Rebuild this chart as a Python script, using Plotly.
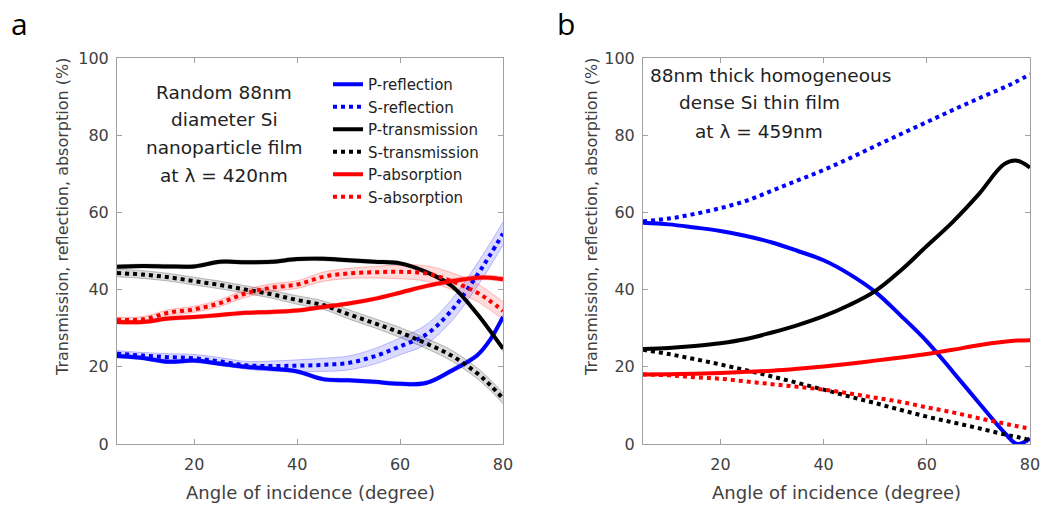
import plotly.graph_objects as go

# Angle of incidence (degree)
angle = [5, 10, 15, 20, 25, 30, 35, 40, 45, 50, 55, 60, 65, 70, 75, 77.5, 80]

# (a) Random 88 nm diameter Si nanoparticle film, lambda = 420 nm (%)
np_p_refl = [22.8, 22.3, 21.3, 21.6, 20.8, 20.0, 19.5, 18.8, 16.8, 16.5, 16.1, 15.6, 15.8, 19.0, 23.0, 27.0, 32.9]
np_s_refl = [23.4, 22.9, 22.5, 22.2, 21.4, 20.4, 20.2, 20.3, 20.5, 21.0, 22.7, 25.3, 28.3, 34.6, 43.8, 49.0, 54.5]
np_p_trans = [45.9, 46.1, 46.0, 46.0, 47.2, 47.1, 47.2, 47.9, 48.0, 47.6, 47.2, 46.8, 44.6, 41.0, 33.7, 29.3, 24.7]
np_s_trans = [44.3, 43.9, 43.2, 42.2, 41.2, 40.0, 38.8, 37.3, 36.0, 33.6, 31.3, 28.9, 26.1, 22.9, 18.3, 15.3, 11.8]
np_p_abs = [31.6, 31.6, 32.5, 32.9, 33.4, 34.0, 34.2, 34.6, 35.5, 36.4, 37.6, 39.2, 40.9, 42.2, 43.1, 43.1, 42.7]
np_s_abs = [32.2, 32.3, 34.0, 34.9, 36.5, 39.0, 40.5, 41.3, 43.3, 44.2, 44.5, 44.6, 44.2, 42.2, 39.2, 37.0, 34.5]

# Half-width of the spread between samples (%)
np_p_err = [0.5, 0.5, 0.5, 0.5, 0.5, 0.5, 0.5, 0.5, 0.5, 0.5, 0.5, 0.5, 0.5, 0.6, 0.6, 0.6, 0.6]
np_s_refl_err = [0.8, 0.8, 0.9, 1.0, 1.0, 1.0, 1.3, 1.5, 1.7, 1.8, 2.0, 2.2, 2.5, 2.8, 3.0, 3.0, 3.0]
np_s_trans_err = [1.0, 1.0, 1.0, 1.0, 1.0, 1.0, 1.0, 1.1, 1.1, 1.2, 1.2, 1.3, 1.3, 1.4, 1.4, 1.4, 1.4]
np_s_abs_err = [0.7, 0.7, 0.8, 0.8, 0.9, 1.0, 1.0, 1.0, 1.2, 1.3, 1.5, 1.8, 2.0, 2.2, 2.3, 2.3, 2.3]

# (b) 88 nm thick homogeneous dense Si thin film, lambda = 459 nm (%)
film_p_refl = [57.3, 56.9, 56.1, 55.2, 53.9, 52.2, 50.0, 47.6, 44.0, 39.4, 33.2, 26.6, 18.8, 10.8, 3.0, 0.0, 1.4]
film_s_refl = [57.7, 58.4, 59.6, 61.1, 63.0, 65.6, 68.3, 71.0, 74.0, 77.2, 80.3, 83.4, 86.5, 89.5, 92.4, 94.0, 95.8]
film_p_trans = [24.6, 24.9, 25.4, 26.1, 27.2, 28.9, 30.8, 33.1, 36.0, 39.6, 45.0, 51.3, 57.5, 64.6, 72.5, 73.4, 71.6]
film_s_trans = [24.4, 23.3, 22.0, 20.6, 19.1, 17.5, 15.8, 14.1, 12.3, 10.6, 8.8, 7.1, 5.6, 4.1, 2.5, 1.8, 1.0]
film_p_abs = [18.0, 18.1, 18.2, 18.4, 18.7, 19.0, 19.5, 20.1, 20.8, 21.6, 22.4, 23.3, 24.4, 25.6, 26.5, 26.8, 26.9]
film_s_abs = [18.0, 17.8, 17.3, 16.9, 16.2, 15.5, 14.8, 14.1, 13.1, 12.0, 10.9, 9.5, 8.2, 6.7, 5.3, 4.6, 4.0]

x_ticks = [20, 40, 60, 80]
y_ticks = [0, 20, 40, 60, 80, 100]

BLUE, BLACK, RED = "#0000ff", "#000000", "#ff0000"
FONT = "DejaVu Sans"
W, H = 1044, 506


def px_x(p):
    return p / W


def px_y(p):
    return 1 - p / H


fig = go.Figure()


def band(mean, err, rgb, xa, ya):
    lo = [m - e for m, e in zip(mean, err)]
    hi = [m + e for m, e in zip(mean, err)]
    edge = f"rgba({rgb},0.30)"
    fig.add_trace(go.Scatter(x=angle, y=lo, mode="lines", line=dict(color=edge, width=0.8, shape="spline"),
                             showlegend=False, hoverinfo="skip", xaxis=xa, yaxis=ya))
    fig.add_trace(go.Scatter(x=angle, y=hi, mode="lines", line=dict(color=edge, width=0.8, shape="spline"),
                             fill="tonexty", fillcolor=f"rgba({rgb},0.14)",
                             showlegend=False, hoverinfo="skip", xaxis=xa, yaxis=ya))


def curve(y, color, dash, name, xa, ya, legend):
    fig.add_trace(go.Scatter(x=angle, y=y, mode="lines", name=name,
                             line=dict(color=color, width=4, dash=dash, shape="spline"),
                             showlegend=legend, xaxis=xa, yaxis=ya))


# Panel a: spread bands underneath the mean curves
band(np_p_refl, np_p_err, "0,0,255", "x", "y")
band(np_s_refl, np_s_refl_err, "0,0,255", "x", "y")
band(np_p_trans, np_p_err, "0,0,0", "x", "y")
band(np_s_trans, np_s_trans_err, "0,0,0", "x", "y")
band(np_p_abs, np_p_err, "255,0,0", "x", "y")
band(np_s_abs, np_s_abs_err, "255,0,0", "x", "y")

curve(np_p_refl, BLUE, "solid", "P-reflection", "x", "y", True)
curve(np_s_refl, BLUE, "dot", "S-reflection", "x", "y", True)
curve(np_p_trans, BLACK, "solid", "P-transmission", "x", "y", True)
curve(np_s_trans, BLACK, "dot", "S-transmission", "x", "y", True)
curve(np_p_abs, RED, "solid", "P-absorption", "x", "y", True)
curve(np_s_abs, RED, "dot", "S-absorption", "x", "y", True)

# Panel b
curve(film_p_refl, BLUE, "solid", "P-reflection", "x2", "y2", False)
curve(film_s_refl, BLUE, "dot", "S-reflection", "x2", "y2", False)
curve(film_p_trans, BLACK, "solid", "P-transmission", "x2", "y2", False)
curve(film_s_trans, BLACK, "dot", "S-transmission", "x2", "y2", False)
curve(film_p_abs, RED, "solid", "P-absorption", "x2", "y2", False)
curve(film_s_abs, RED, "dot", "S-absorption", "x2", "y2", False)

axis_common = dict(showline=True, linecolor="#a0a0a0", linewidth=1, mirror="ticks",
                   ticks="inside", ticklen=5, tickcolor="#a0a0a0", tickwidth=1,
                   showgrid=False, zeroline=False, automargin=False,
                   tickfont=dict(family=FONT, size=16, color="#404040"))

xdom_a = [px_x(117), px_x(503)]
xdom_b = [px_x(643), px_x(1030)]
ydom = [px_y(444), px_y(58)]

fig.update_layout(
    width=W, height=H,
    margin=dict(l=0, r=0, t=0, b=0, pad=0),
    paper_bgcolor="white", plot_bgcolor="white",
    xaxis=dict(domain=xdom_a, range=[5, 80], tickvals=x_ticks, anchor="y",
               ticklabelstandoff=6, **axis_common),
    yaxis=dict(domain=ydom, range=[0, 100], tickvals=y_ticks, anchor="x",
               ticklabelstandoff=4, **axis_common),
    xaxis2=dict(domain=xdom_b, range=[5, 80], tickvals=x_ticks, anchor="y2",
                ticklabelstandoff=6, **axis_common),
    yaxis2=dict(domain=ydom, range=[0, 100], tickvals=y_ticks, anchor="x2",
                ticklabelstandoff=4, **axis_common),
    legend=dict(x=px_x(328), y=px_y(68), xanchor="left", yanchor="top",
                bgcolor="rgba(0,0,0,0)", borderwidth=0, traceorder="normal",
                font=dict(family=FONT, size=15, color="#222222"),
                tracegroupgap=0),
    showlegend=True,
)

annotations = []


def text(x, y, s, size, color="#222222", angle=0, family=FONT):
    annotations.append(dict(x=px_x(x), y=px_y(y), xref="paper", yref="paper", text=s,
                            showarrow=False, xanchor="center", yanchor="middle",
                            textangle=angle, font=dict(family=family, size=size, color=color)))


# Axis titles
for cx in (63, 592):
    text(cx, 217, "Transmission, reflection, absorption (%)", 16, "#404040", -90)
for cx in (310, 836):
    text(cx, 492, "Angle of incidence (degree)", 18, "#404040")

# Panel labels
text(19, 24, "a", 30, "#000000", family="Open Sans")
text(566, 24, "b", 30, "#000000", family="Open Sans")

# Sample descriptions
for i, line in enumerate(["Random 88nm", "diameter Si", "nanoparticle film", "at λ = 420nm"]):
    text(224, 92 + 27.7 * i, line, 18.5)
text(770, 75, "88nm thick homogeneous", 18.5)
text(759, 103, "dense Si thin film", 18.5)
text(759, 131, "at λ = 459nm", 18.5)

fig.update_layout(annotations=annotations)

fig.write_html("out.html")
